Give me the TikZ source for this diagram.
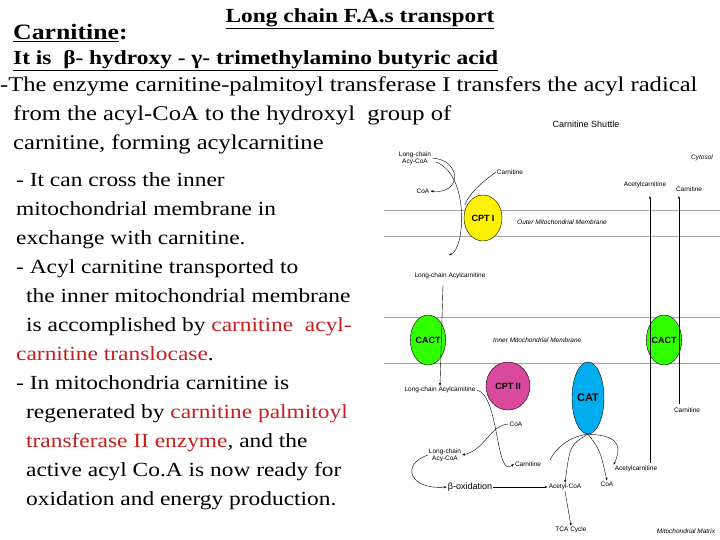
\documentclass[tikz,border=0pt]{standalone}
\usepackage{fontspec}
\setmainfont{Liberation Serif}[FakeStretch=1.17]
\setsansfont{Liberation Sans}
\usetikzlibrary{arrows.meta,shapes.geometric}
\definecolor{rd}{RGB}{200,30,30}
\begin{document}
\begin{tikzpicture}[x=1pt,y=-1pt,
 lab/.style={font=\sffamily\fontsize{6.5}{7}\selectfont,align=center,inner sep=1pt},
 it/.style={font=\sffamily\itshape\fontsize{6.5}{7}\selectfont,inner sep=1pt},
 mem/.style={draw=gray!70,line width=0.6pt},
 ar/.style={-{Stealth[length=3pt]},line width=0.4pt},
 enz/.style={ellipse,draw,inner sep=0,font=\sffamily\bfseries\fontsize{9}{10}\selectfont},
 txt/.style={font=\fontsize{20}{29}\selectfont,anchor=north west,align=left,inner sep=0}]
\useasboundingbox (0,0) rectangle (720,540);
% texts
\node[anchor=west,font=\bfseries\fontsize{22}{22}\selectfont,inner sep=0] (t1) at (13,33) {\underline{Carnitine}:};
\node[font=\bfseries\fontsize{20}{20}\selectfont,inner sep=0] (t0) at (360,19) {\underline{Long chain F.A.s transport}};
\node[anchor=west,font=\bfseries\fontsize{20}{20}\selectfont,inner sep=0] (t2) at (13,61) {\underline{It is\ \ β- hydroxy - γ- trimethylamino butyric acid}};
\node[txt,font=\fontsize{21}{29}\selectfont] (t3) at (0,77) {-The enzyme carnitine-palmitoyl transferase I transfers the acyl radical\\
\hspace*{13pt}from the acyl-CoA to the hydroxyl\ \ group of\\
\hspace*{13pt}carnitine, forming acylcarnitine};
\node[txt] (t4) at (16,172) {- It can cross the inner\\
mitochondrial membrane in\\
exchange with carnitine.\\
- Acyl carnitine transported to\\
\hspace*{10pt}the inner mitochondrial membrane\\
\hspace*{10pt}is accomplished by \textcolor{rd}{carnitine\ \ acyl-}\\
\textcolor{rd}{carnitine translocase}.\\
- In mitochondria carnitine is\\
\hspace*{10pt}regenerated by \textcolor{rd}{carnitine palmitoyl}\\
\hspace*{10pt}\textcolor{rd}{transferase II enzyme}, and the\\
\hspace*{10pt}active acyl Co.A is now ready for\\
\hspace*{10pt}oxidation and energy production.};
\node[font=\sffamily\fontsize{9}{10}\selectfont] (cs) at (586,124) {Carnitine Shuttle};
% membranes
\draw[mem] (384,210) -- (720,210); \draw[mem] (384,236) -- (720,236);
\draw[mem] (384,317) -- (720,317); \draw[mem] (384,363) -- (720,363);
% enzymes
\node[enz,fill=yellow,minimum width=38pt,minimum height=46pt] (cpt1) at (483,218) {CPT I};
\node[enz,fill=green!75!lime,minimum width=28pt,minimum height=50pt] (cact1) at (428,340) {CACT};
\node[enz,fill=green!75!lime,minimum width=28pt,minimum height=50pt] (cact2) at (664,340) {CACT};
\node[enz,fill=magenta!70!violet!80,minimum width=44pt,minimum height=48pt] (cpt2) at (508,386) {CPT II};
\node[enz,fill=cyan,minimum width=32pt,minimum height=72pt,font=\sffamily\bfseries\fontsize{11}{12}\selectfont] (cat) at (588,398) {CAT};
% labels
\node[lab] (lcac) at (415,158) {Long-chain\\Acy-CoA};
\node[lab] (coa1) at (423,191) {CoA};
\node[lab] (car1) at (510,172) {Carnitine};
\node[lab] (acc1) at (645,185) {Acetylcarnitine};
\node[lab] (car2) at (689,189) {Carnitine};
\node[it] (cyt) at (702,158) {Cytosol};
\node[it,anchor=west] (omm) at (516,222) {Outer Mitochondrial Membrane};
\node[lab] (lca1) at (450,276) {Long-chain Acylcarnitine};
\node[it,anchor=west] (imm) at (492,340) {Inner Mitochondrial Membrane};
\node[lab] (lca2) at (440,390) {Long-chain Acylcarnitine};
\node[lab] (coa2) at (516,424) {CoA};
\node[lab] (lcac2) at (445,455) {Long-chain\\Acy-CoA};
\node[lab] (car3) at (528,464) {Carnitine};
\node[lab,font=\sffamily\fontsize{9}{10}\selectfont] (box) at (470,487) {β-oxidation};
\node[lab] (acoa) at (565,487) {Acetyl-CoA};
\node[lab] (coa3) at (607,484) {CoA};
\node[lab] (acc2) at (636,469) {Acetylcarnitine};
\node[lab] (car4) at (687,410) {Carnitine};
\node[lab] (tca) at (571,530) {TCA Cycle};
\node[it] (mm) at (686,531) {Mitochondrial Matrix};
\coordinate (p1) at (650,196); \coordinate (p2) at (679,196);
% arrows
\draw[ar] (lcac.east) .. controls (462,160) and (462,195) .. (coa1.east);
\draw[ar] (436,162) .. controls (470,175) and (465,250) .. (449,255);
\draw[line width=0.4pt] (car1.west) .. controls (490,177) and (470,190) .. (465,205);
\draw[ar] (650,463) -- (p1);
\draw[ar] (679,404) -- (p2);
\draw[ar] (443,285) -- (lca2.north);
\draw[ar] (lca2.east) .. controls (500,395) and (495,480) .. (car3.west);
\draw[ar] (coa2.west) .. controls (490,425) and (485,450) .. (lcac2.east);
\draw[ar] (lcac2.west) .. controls (400,465) and (410,490) .. (box.west);
\draw[ar] (box.east) -- (acoa.west);
\draw[ar] (acoa.south) -- (tca.north);
\draw[line width=0.4pt] (550,460) .. controls (560,440) and (580,435) .. (cat.south);
\draw[ar] (cat.south) .. controls (570,445) .. (acoa.north);
\draw[ar] (cat.south) .. controls (600,450) .. (coa3.north);
\draw[ar] (cat.south) .. controls (610,435) and (625,440) .. (acc2.north west);
\end{tikzpicture}
\end{document}
